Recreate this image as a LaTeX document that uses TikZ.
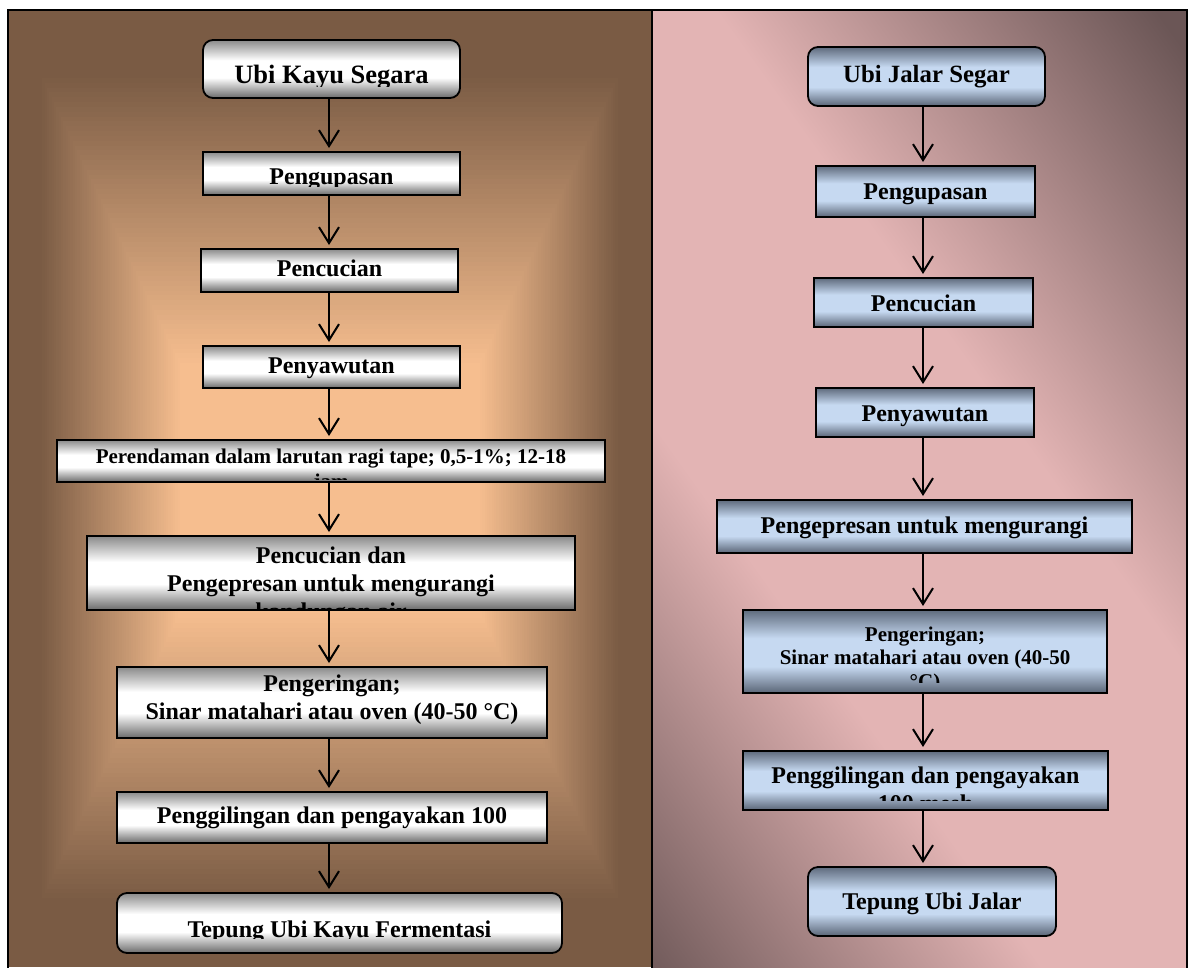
\documentclass[tikz,border=0pt]{standalone}
\usepackage{fontspec}
\setmainfont{Liberation Serif}
\usetikzlibrary{arrows.meta,calc}
\definecolor{brownedge}{HTML}{7A5B44}
\definecolor{peach}{HTML}{F6BE8F}
\definecolor{pinkmid}{HTML}{E3B4B4}
\definecolor{pinkdark}{HTML}{6B5656}
\definecolor{silvbot}{HTML}{6A6A6A}
\definecolor{silvtop}{HTML}{8A8A8A}
\definecolor{bluemid}{HTML}{C6D9F1}
\definecolor{bluebot}{HTML}{5A6576}
\definecolor{bluetop}{HTML}{5F6B7D}
\pgfdeclareverticalshading{pinkdiag}{100bp}{color(0bp)=(pinkdark); color(27bp)=(pinkdark); color(42bp)=(pinkmid); color(55bp)=(pinkmid); color(71bp)=(pinkdark); color(100bp)=(pinkdark)}
\pgfdeclareverticalshading{silvershade}{100bp}{color(0bp)=(silvbot); color(25bp)=(silvbot); color(42.5bp)=(white); color(57.5bp)=(white); color(75bp)=(silvtop); color(100bp)=(silvtop)}
\pgfdeclareverticalshading{bluegrad}{100bp}{color(0bp)=(bluebot); color(25bp)=(bluebot); color(41bp)=(bluemid); color(58bp)=(bluemid); color(75bp)=(bluetop); color(100bp)=(bluetop)}
\tikzset{
  box/.style={draw=black, line width=1.8pt, rectangle, inner sep=0pt, outer sep=0pt},
  lbox/.style={box, shade, shading=silvershade},
  rbox/.style={box, shade, shading=bluegrad},
  rnd/.style={rounded corners=10pt},
  txt/.style={inner sep=0pt, anchor=base, font=\fontsize{24pt}{28pt}\selectfont\bfseries},
  txts/.style={inner sep=0pt, anchor=base, font=\fontsize{21pt}{24pt}\selectfont\bfseries},
  arr/.style={line width=2pt, -{Straight Barb[length=16pt,width=20pt]}, shorten >=4pt},
  frame/.style={draw=black, line width=1.5pt}
}
\begin{document}
\begin{tikzpicture}[x=1pt,y=-1pt]
\useasboundingbox (0,0) rectangle (1189,967);
\fill[white] (0,0) rectangle (1189,967);
% left panel background: rectangular gradient from centre
\begin{scope}
  \clip (8,10) rectangle (652,967);
  \fill[brownedge] (8,10) rectangle (652,967);
  \foreach \i in {0,...,60}{
    \pgfmathsetmacro\tt{1-\i/60}
    \pgfmathsetmacro\pp{100*\tt}
    \pgfmathsetmacro\aa{150+140*\tt}
    \pgfmathsetmacro\bb{125+290*\tt}
    \fill[brownedge!\pp!peach] (330-\aa,488-\bb) rectangle (330+\aa,488+\bb);
  }
\end{scope}
% right panel background
\begin{scope}
  \clip (652,10) rectangle (1187,967);
  \fill[pinkmid] (652,10) rectangle (1187,967);
  \begin{scope}[transform canvas={rotate around={-54.4:(920,488.5)}}]
    \shade[shading=pinkdiag] (360,-71.5) rectangle (1480,1048.5);
  \end{scope}
\end{scope}
\draw[frame] (8,975) -- (8,10) -- (1187,10) -- (1187,975);
\draw[frame] (652,10) -- (652,975);

% left boxes
\node[lbox, rnd, minimum width=257pt, minimum height=58pt] (l1) at (331.5,69) {};
\node[lbox, minimum width=257pt, minimum height=43pt] (l2) at (331.5,173.5) {};
\node[lbox, minimum width=257pt, minimum height=43pt] (l3) at (329.5,270.5) {};
\node[lbox, minimum width=257pt, minimum height=42pt] (l4) at (331.5,367) {};
\node[lbox, minimum width=548pt, minimum height=42pt] (l5) at (331,461) {};
\node[lbox, minimum width=488pt, minimum height=74pt] (l6) at (331,573) {};
\node[lbox, minimum width=430pt, minimum height=71pt] (l7) at (332,702.5) {};
\node[lbox, minimum width=430pt, minimum height=51pt] (l8) at (332,817.5) {};
\node[lbox, rnd, minimum width=445pt, minimum height=60pt] (l9) at (339.5,923) {};

\begin{scope}
  \clip (203,40) rectangle (460,86.5);
  \node[txt, font=\fontsize{26.5pt}{30pt}\selectfont\bfseries] (t1) at (331.5,83) {Ubi Kayu Segara};
\end{scope}
\begin{scope}
  \clip (203,152) rectangle (460,186);
  \node[txt] (t2) at (331.5,184) {Pengupasan};
\end{scope}
\node[txt] (t3) at (329.5,276) {Pencucian};
\node[txt] (t4) at (331.5,373) {Penyawutan};
\begin{scope}
  \clip (57,440) rectangle (605,479.5);
  \node[txts] (t5a) at (331,463) {Perendaman dalam larutan ragi tape; 0,5-1\%; 12-18};
  \node[txts] (t5b) at (331,488) {jam};
\end{scope}
\begin{scope}
  \clip (87,536) rectangle (575,608.5);
  \node[txt] (t6a) at (331,563) {Pencucian dan};
  \node[txt] (t6b) at (331,591) {Pengepresan untuk mengurangi};
  \node[txt] (t6c) at (331,619) {kandungan air};
\end{scope}
\node[txt] (t7a) at (332,691) {Pengeringan;};
\node[txt] (t7b) at (332,719) {Sinar matahari atau oven (40-50 °C)};
\node[txt] (t8) at (332,823) {Penggilingan dan pengayakan 100};
\begin{scope}
  \clip (117,893) rectangle (562,938);
  \node[txt] (t9) at (339.5,937) {Tepung Ubi Kayu Fermentasi};
\end{scope}

% right boxes
\node[rbox, rnd, minimum width=237pt, minimum height=59pt] (r1) at (926.5,76.5) {};
\node[rbox, minimum width=219pt, minimum height=51pt] (r2) at (925.5,191.5) {};
\node[rbox, minimum width=219pt, minimum height=49pt] (r3) at (923.5,302.5) {};
\node[rbox, minimum width=218pt, minimum height=49pt] (r4) at (925,412.5) {};
\node[rbox, minimum width=415pt, minimum height=53pt] (r5) at (924.5,526.5) {};
\node[rbox, minimum width=364pt, minimum height=83pt] (r6) at (925,651.5) {};
\node[rbox, minimum width=365pt, minimum height=59pt] (r7) at (925.5,780.5) {};
\node[rbox, rnd, minimum width=248pt, minimum height=69pt] (r8) at (932,901.5) {};

\node[txt, font=\fontsize{24.8pt}{29pt}\selectfont\bfseries] (s1) at (926.5,82) {Ubi Jalar Segar};
\node[txt] (s2) at (925.5,199) {Pengupasan};
\node[txt] (s3) at (923.5,311) {Pencucian};
\node[txt] (s4) at (925,421) {Penyawutan};
\node[txt] (s5) at (924.5,533) {Pengepresan untuk mengurangi};
\begin{scope}
  \clip (743,610) rectangle (1107,682);
  \node[txts] (s6a) at (925,641) {Pengeringan;};
  \node[txts] (s6b) at (925,664) {Sinar matahari atau oven (40-50};
  \node[txts] (s6c) at (925,688) {°C)};
\end{scope}
\begin{scope}
  \clip (743,751) rectangle (1108,800);
  \node[txt] (s7a) at (925.5,783) {Penggilingan dan pengayakan};
  \node[txt] (s7b) at (925.5,811) {100 mesh};
\end{scope}
\node[txt] (s8) at (932,909) {Tepung Ubi Jalar};

% arrows
\coordinate (lx) at (329,0);
\coordinate (rx) at (923,0);
\foreach \a/\b in {l1/l2,l2/l3,l3/l4,l4/l5,l5/l6,l6/l7,l7/l8,l8/l9}
  \draw[arr] (\a.south -| lx) -- (\b.north -| lx);
\foreach \a/\b in {r1/r2,r2/r3,r3/r4,r4/r5,r5/r6,r6/r7,r7/r8}
  \draw[arr] (\a.south -| rx) -- (\b.north -| rx);
\end{tikzpicture}
\end{document}
